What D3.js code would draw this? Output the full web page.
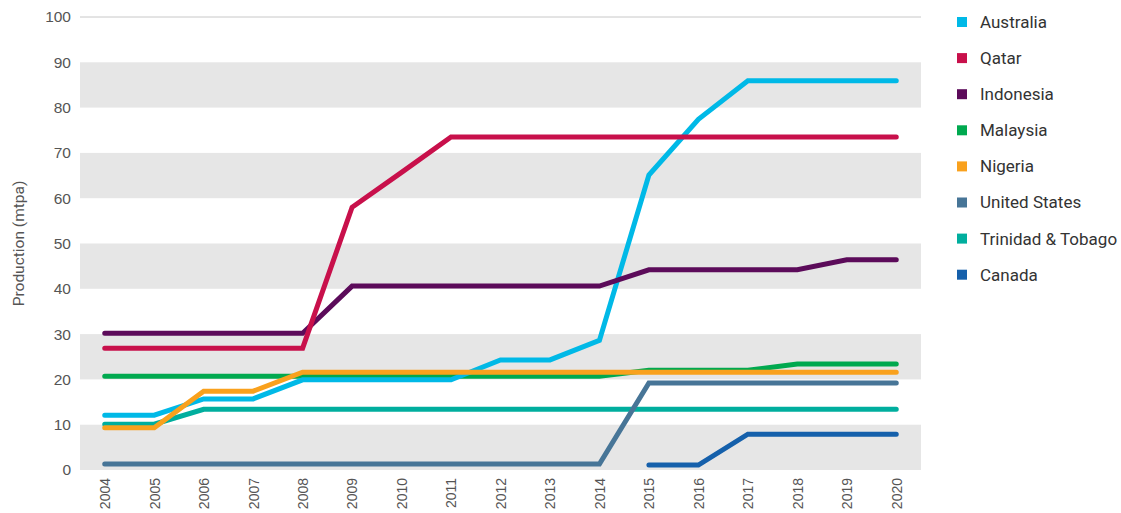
<!DOCTYPE html>
<html>
<head>
<meta charset="utf-8">
<script src="https://cdn.jsdelivr.net/npm/d3@7"></script>
<style>
  body { margin: 0; background: #fff; }
  svg { display: block; font-family: Roboto, "Open Sans", sans-serif; }
</style>
</head>
<body>
<svg id="chart"></svg>
<script>
var years = [2004, 2005, 2006, 2007, 2008, 2009, 2010, 2011, 2012, 2013, 2014, 2015, 2016, 2017, 2018, 2019, 2020];
var yTicks = [0, 10, 20, 30, 40, 50, 60, 70, 80, 90, 100];

var australia = [12.1, 12.1, 15.7, 15.7, 19.9, 19.9, 19.9, 19.9, 24.3, 24.3, 28.6, 65.1, 77.4, 85.9, 85.9, 85.9, 85.9];
var qatar = [26.9, 26.9, 26.9, 26.9, 26.9, 58.0, 65.7, 73.5, 73.5, 73.5, 73.5, 73.5, 73.5, 73.5, 73.5, 73.5, 73.5];
var indonesia = [30.2, 30.2, 30.2, 30.2, 30.2, 40.6, 40.6, 40.6, 40.6, 40.6, 40.6, 44.2, 44.2, 44.2, 44.2, 46.4, 46.4];
var malaysia = [20.7, 20.7, 20.7, 20.7, 20.7, 20.7, 20.7, 20.7, 20.7, 20.7, 20.7, 22.0, 22.0, 22.0, 23.4, 23.4, 23.4];
var nigeria = [9.3, 9.3, 17.4, 17.4, 21.6, 21.6, 21.6, 21.6, 21.6, 21.6, 21.6, 21.6, 21.6, 21.6, 21.6, 21.6, 21.6];
var unitedStates = [1.3, 1.3, 1.3, 1.3, 1.3, 1.3, 1.3, 1.3, 1.3, 1.3, 1.3, 19.2, 19.2, 19.2, 19.2, 19.2, 19.2];
var trinidad = [10.1, 10.1, 13.4, 13.4, 13.4, 13.4, 13.4, 13.4, 13.4, 13.4, 13.4, 13.4, 13.4, 13.4, 13.4, 13.4, 13.4];
var canada = [null, null, null, null, null, null, null, null, null, null, null, 1.1, 1.1, 7.9, 7.9, 7.9, 7.9];

var seriesNames = ["Australia", "Qatar", "Indonesia", "Malaysia", "Nigeria", "United States", "Trinidad & Tobago", "Canada"];
var seriesValues = [australia, qatar, indonesia, malaysia, nigeria, unitedStates, trinidad, canada];
var seriesColors = ["#00b9e7", "#c8104b", "#5c0b5a", "#00a94f", "#f9a11d", "#477597", "#00ae9e", "#1560ab"];

var width = 1121, height = 513;
var margin = { left: 80, right: 200, top: 17, bottom: 43 };

var svg = d3.select("#chart").attr("width", width).attr("height", height);

var x = d3.scalePoint()
  .domain(years)
  .range([margin.left, width - margin.right])
  .padding(0.5);

var y = d3.scaleLinear()
  .domain([0, 100])
  .range([height - margin.bottom, margin.top]);

// alternating grey bands
var bands = yTicks.filter(function (d) { return d < 100 && (d / 10) % 2 === 0; });
svg.append("g").selectAll("rect")
  .data(bands)
  .enter()
  .append("rect")
  .attr("x", margin.left)
  .attr("width", width - margin.right - margin.left)
  .attr("y", function (d) { return y(d + 10); })
  .attr("height", function (d) { return y(d) - y(d + 10); })
  .attr("fill", "#e6e6e6");

svg.append("line")
  .attr("x1", margin.left)
  .attr("x2", width - margin.right)
  .attr("y1", y(100))
  .attr("y2", y(100))
  .attr("stroke", "#c8c8c8")
  .attr("stroke-width", 1);

// y axis
var yAxis = d3.axisLeft(y).tickValues(yTicks).tickSize(0).tickPadding(9);
var gy = svg.append("g")
  .attr("transform", "translate(" + margin.left + ",0)")
  .call(yAxis);
gy.select(".domain").remove();
gy.selectAll("text")
  .attr("fill", "#555")
  .style("font-size", "15.5px");

svg.append("text")
  .attr("transform", "translate(24," + y(50) + ") rotate(-90)")
  .attr("text-anchor", "middle")
  .attr("fill", "#555")
  .style("font-size", "15.5px")
  .text("Production (mtpa)");

// x axis
var xAxis = d3.axisBottom(x).tickSize(0).tickPadding(0);
var gx = svg.append("g")
  .attr("transform", "translate(0," + (height - margin.bottom) + ")")
  .call(xAxis);
gx.select(".domain").remove();
gx.selectAll("text")
  .attr("fill", "#555")
  .style("font-size", "14px")
  .attr("text-anchor", "end")
  .attr("dy", "0.35em")
  .attr("transform", "translate(0,8) rotate(-90)")
  .attr("y", 0)
  .attr("x", 0);

// lines
var line = d3.line()
  .defined(function (d) { return d != null; })
  .x(function (d, i) { return x(years[i]); })
  .y(function (d) { return y(d); });

var order = [6, 5, 7, 3, 0, 4, 2, 1];
svg.append("g").selectAll("path")
  .data(order)
  .enter()
  .append("path")
  .attr("d", function (k) { return line(seriesValues[k]); })
  .attr("fill", "none")
  .attr("stroke", function (k) { return seriesColors[k]; })
  .attr("stroke-width", 5)
  .attr("stroke-linecap", "round")
  .attr("stroke-linejoin", "miter");

// legend
var legend = svg.append("g").attr("transform", "translate(957,22)");
var item = legend.selectAll("g")
  .data(seriesNames)
  .enter()
  .append("g")
  .attr("transform", function (d, i) { return "translate(0," + (i * 36.1) + ")"; });
item.append("rect")
  .attr("x", 0)
  .attr("y", -5)
  .attr("width", 10)
  .attr("height", 10)
  .attr("fill", function (d, i) { return seriesColors[i]; });
item.append("text")
  .attr("x", 23)
  .attr("dy", "0.35em")
  .attr("fill", "#333")
  .style("font-size", "17px")
  .text(function (d) { return d; });
</script>
</body>
</html>
